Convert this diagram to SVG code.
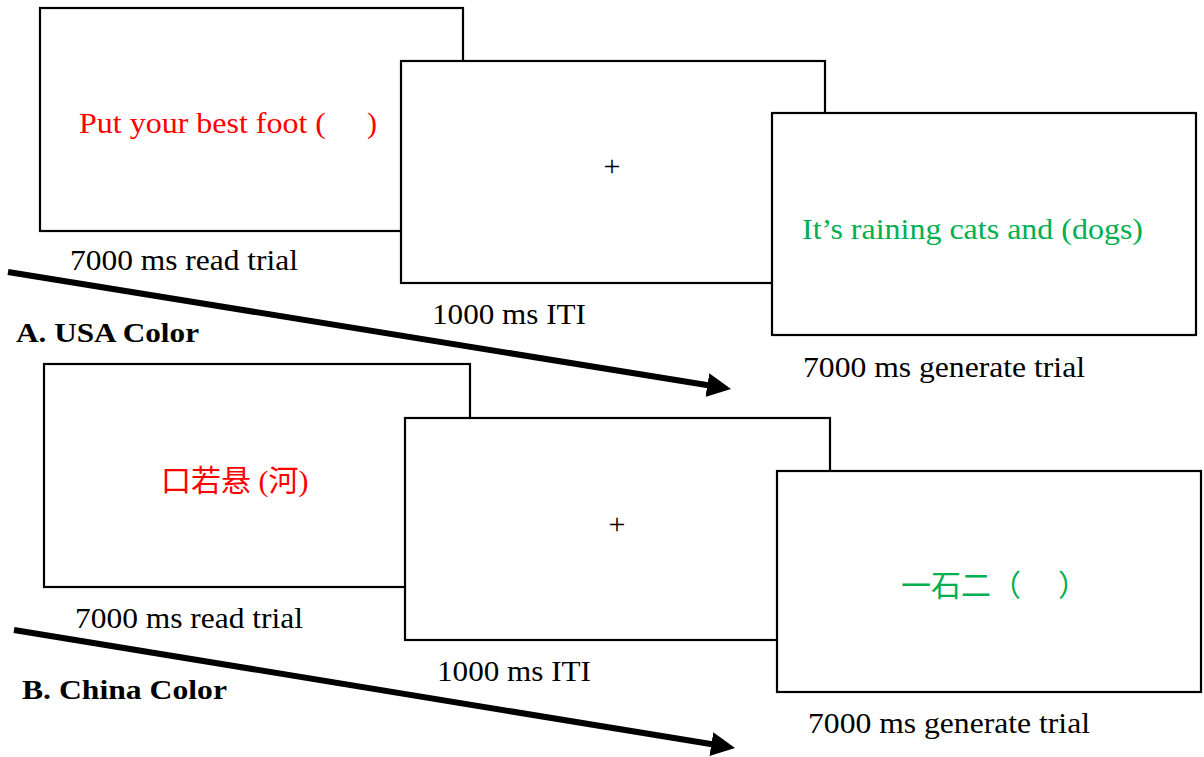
<svg xmlns="http://www.w3.org/2000/svg" width="1204" height="757" viewBox="0 0 1204 757">
<style>
.box{fill:#fff;stroke:#000;stroke-width:2.2}
.cap{font-family:"Liberation Serif","Times New Roman",serif;font-size:30px;fill:#000}
.lbl{font-family:"Liberation Serif","Times New Roman",serif;font-size:28px;font-weight:bold;fill:#000}
.red{font-family:"Liberation Serif","Noto Sans CJK SC",serif;font-size:30px;fill:#ff0000}
.grn{font-family:"Liberation Serif","Noto Sans CJK SC",serif;font-size:30px;fill:#00b050}
.cjk{font-family:"Noto Sans CJK SC",sans-serif}
.plus{font-family:"Liberation Serif",serif;font-size:30px;fill:#000}
.arr{stroke:#000;stroke-width:6;fill:none}
</style>
<defs>
<marker id="ah" viewBox="0 0 24 24" refX="4" refY="12" markerWidth="24" markerHeight="24" markerUnits="userSpaceOnUse" orient="auto">
<path d="M0,0 L24,12 L0,24 z" fill="#000"/>
</marker>
</defs>
<rect width="1204" height="757" fill="#fff"/>

<g id="connectors">
<line class="arr" x1="8" y1="272" x2="711.3" y2="385.8" marker-end="url(#ah)"/>
<line class="arr" x1="14" y1="630" x2="715.3" y2="744.8" marker-end="url(#ah)"/>
</g>

<g id="usa-read">
<rect class="box" x="40" y="8" width="423" height="223"/>
<text class="red" x="79" y="133" textLength="247" lengthAdjust="spacingAndGlyphs">Put your best foot (</text>
<text class="red" x="367" y="133">)</text>
<text class="cap" x="70" y="270" textLength="228" lengthAdjust="spacingAndGlyphs">7000  ms read trial</text>
</g>

<g id="usa-iti">
<rect class="box" x="401" y="61" width="424" height="222"/>
<text class="plus" x="612" y="176" text-anchor="middle">+</text>
<text class="cap" x="432" y="324" textLength="154" lengthAdjust="spacingAndGlyphs">1000 ms ITI</text>
</g>

<g id="usa-generate">
<rect class="box" x="772" y="113" width="424" height="222"/>
<text class="grn" x="802" y="239" textLength="341" lengthAdjust="spacingAndGlyphs">It’s raining  cats and (dogs)</text>
<text class="cap" x="803" y="377" textLength="282" lengthAdjust="spacingAndGlyphs">7000  ms generate trial</text>
</g>

<text class="lbl" x="16" y="342" textLength="183" lengthAdjust="spacingAndGlyphs">A. USA Color</text>

<g id="china-read">
<rect class="box" x="44" y="364" width="426" height="223"/>
<text class="red" x="161" y="491" font-size="31"><tspan class="cjk">口若悬</tspan> (<tspan class="cjk">河</tspan>)</text>
<text class="cap" x="75" y="628" textLength="228" lengthAdjust="spacingAndGlyphs">7000  ms read trial</text>
</g>

<g id="china-iti">
<rect class="box" x="405" y="418" width="425" height="222"/>
<text class="plus" x="617" y="534" text-anchor="middle">+</text>
<text class="cap" x="437" y="681" textLength="154" lengthAdjust="spacingAndGlyphs">1000 ms ITI</text>
</g>

<g id="china-generate">
<rect class="box" x="777" y="471" width="424" height="221"/>
<text class="grn cjk" x="901" y="596" font-size="31">一石二（</text>
<text class="grn cjk" x="1058" y="596" font-size="31">）</text>
<text class="cap" x="808" y="733" textLength="282" lengthAdjust="spacingAndGlyphs">7000  ms generate trial</text>
</g>

<text class="lbl" x="22" y="699" textLength="205" lengthAdjust="spacingAndGlyphs">B. China Color</text>
</svg>
